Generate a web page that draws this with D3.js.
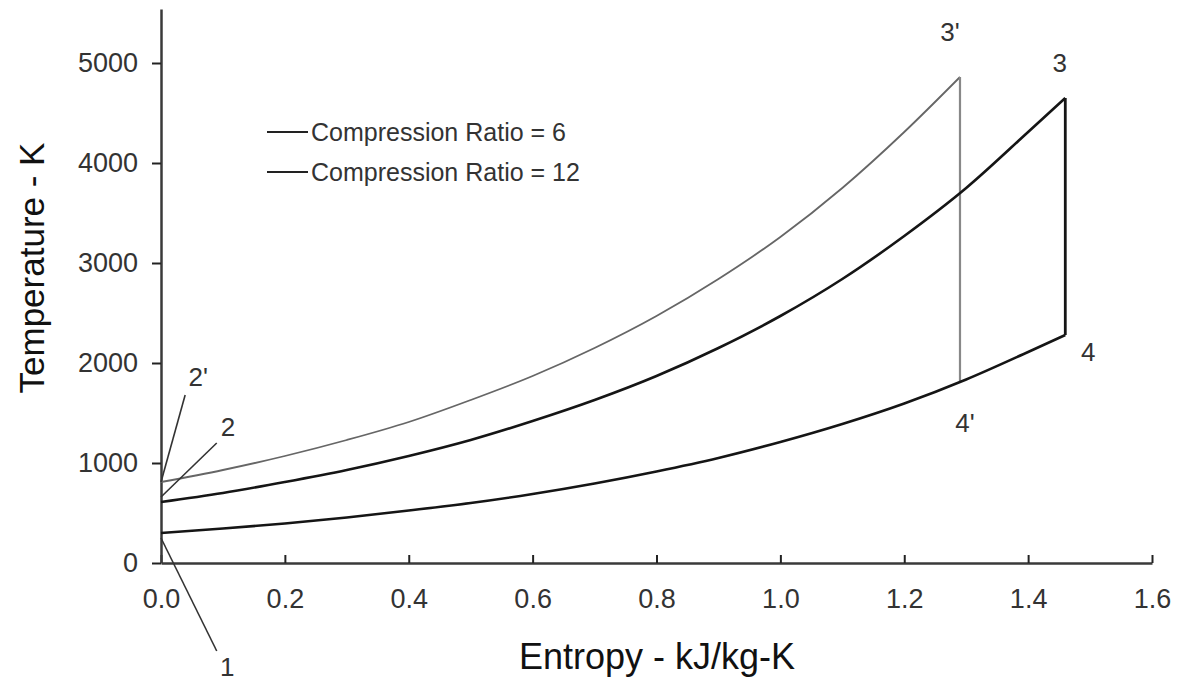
<!DOCTYPE html>
<html>
<head>
<meta charset="utf-8">
<script src="https://cdnjs.cloudflare.com/ajax/libs/d3/7.8.5/d3.min.js"></script>
<style>
    body { margin: 0; background: #fff; }
    svg text { font-family: "Liberation Sans", Arial, sans-serif; fill: #222; }
</style>
</head>
<body>
<svg id="chart" width="1178" height="683"></svg>
<script>
// tick values
const xTicks = [0, 0.2, 0.4, 0.6, 0.8, 1.0, 1.2, 1.4, 1.6];
const yTicks = [0, 1000, 2000, 3000, 4000, 5000];

// compression ratio 12: heat addition 2' -> 3'
const entropyR12 = [0, 0.1, 0.2, 0.3, 0.4, 0.5, 0.6, 0.7, 0.8, 0.9, 1.0, 1.1, 1.2, 1.29];
const tempR12 = [810, 930, 1070, 1230, 1410, 1630, 1870, 2150, 2470, 2840, 3260, 3750, 4310, 4860];

// compression ratio 6: heat addition 2 -> 3
const entropyR6 = [0, 0.1, 0.2, 0.3, 0.4, 0.5, 0.6, 0.7, 0.8, 0.9, 1.0, 1.1, 1.2, 1.3, 1.4, 1.46];
const tempR6 = [610, 700, 810, 930, 1070, 1230, 1420, 1630, 1870, 2150, 2470, 2840, 3270, 3750, 4310, 4650];

// heat rejection 1 -> 4' -> 4 (shared)
const entropyLow = [0, 0.1, 0.2, 0.3, 0.4, 0.5, 0.6, 0.7, 0.8, 0.9, 1.0, 1.1, 1.2, 1.3, 1.4, 1.46];
const tempLow = [300, 345, 395, 455, 525, 600, 690, 795, 915, 1050, 1210, 1390, 1595, 1835, 2110, 2280];

// isentropic expansions (vertical lines)
const expansionR12 = [[1.29, 4860], [1.29, 1810]];
const expansionR6 = [[1.46, 4650], [1.46, 2280]];

// state point labels: name, label s, label T
const stateNames = ["1", "2", "2'", "3", "3'", "4", "4'"];
const stateLabelS = [0.107, 0.108, 0.060, 1.451, 1.274, 1.497, 1.298];
const stateLabelT = [-1040, 1360, 1860, 5000, 5310, 2110, 1400];

// leader lines for the states at s = 0: [from], [to]
const leaders = [
    [[0, 250], [0.090, -880]],
    [[0, 660], [0.090, 1200]],
    [[0, 810], [0.039, 1680]]
];

const legendLabels = ["Compression Ratio = 6", "Compression Ratio = 12"];

class tsChart {
    constructor(_parentElement) {
        this.parentElement = _parentElement;
        this.initVis();
    }

    initVis() {
        let vis = this;

        vis.svg = d3.select(vis.parentElement);

        vis.xScale = d3.scaleLinear()
            .domain([0, 1.6])
            .range([161, 1152]);

        vis.yScale = d3.scaleLinear()
            .domain([0, 5540])
            .range([563, 9]);

        vis.line = d3.line()
            .x(d => vis.xScale(d[0]))
            .y(d => vis.yScale(d[1]));

        vis.drawAxes();
        vis.drawCurves();
        vis.drawLabels();
        vis.drawLegend();
    }

    drawAxes() {
        let vis = this;

        // x axis: ticks point up into the plot
        let xAxis = d3.axisTop(vis.xScale)
            .tickValues(xTicks)
            .tickFormat(d3.format(".1f"))
            .tickSizeInner(8)
            .tickSizeOuter(0);

        let xg = vis.svg.append("g")
            .attr("transform", `translate(0, ${vis.yScale(0)})`)
            .call(xAxis);
        xg.select(".domain").attr("stroke", "#3a3a3a").attr("stroke-width", 2.5);
        xg.selectAll(".tick line").attr("stroke", "#222").attr("stroke-width", 2);
        xg.selectAll(".tick text")
            .attr("y", 45)
            .attr("dy", 0)
            .style("font-size", "27px")
            .style("fill", "#333");

        let yAxis = d3.axisLeft(vis.yScale)
            .tickValues(yTicks)
            .tickFormat(d3.format("d"))
            .tickSizeInner(9)
            .tickSizeOuter(0)
            .tickPadding(14);

        let yg = vis.svg.append("g")
            .attr("transform", `translate(${vis.xScale(0)}, 0)`)
            .call(yAxis);
        yg.select(".domain").attr("stroke", "#3a3a3a").attr("stroke-width", 2.5);
        yg.selectAll(".tick line").attr("stroke", "#222").attr("stroke-width", 2);
        yg.selectAll(".tick text")
            .style("font-size", "27px")
            .style("fill", "#333");

        // axis titles
        vis.svg.append("text")
            .attr("x", 657)
            .attr("y", 669)
            .attr("text-anchor", "middle")
            .style("font-size", "36px")
            .style("fill", "#111")
            .text("Entropy - kJ/kg-K");

        vis.svg.append("text")
            .attr("transform", "rotate(-90)")
            .attr("x", -268)
            .attr("y", 44)
            .attr("text-anchor", "middle")
            .style("font-size", "35px")
            .style("fill", "#111")
            .text("Temperature - K");
    }

    drawCurves() {
        let vis = this;

        let r12 = entropyR12.map((s, i) => [s, tempR12[i]]);
        let r6 = entropyR6.map((s, i) => [s, tempR6[i]]);
        let low = entropyLow.map((s, i) => [s, tempLow[i]]);

        let g = vis.svg.append("g").attr("fill", "none");

        g.append("path")
            .datum(r12)
            .attr("d", vis.line.curve(d3.curveMonotoneX))
            .attr("stroke", "#666")
            .attr("stroke-width", 1.8);

        g.append("path")
            .datum(expansionR12)
            .attr("d", vis.line.curve(d3.curveLinear))
            .attr("stroke", "#888")
            .attr("stroke-width", 2.2);

        g.append("path")
            .datum(r6)
            .attr("d", vis.line.curve(d3.curveMonotoneX))
            .attr("stroke", "#151515")
            .attr("stroke-width", 2.6);

        g.append("path")
            .datum(low)
            .attr("d", vis.line.curve(d3.curveMonotoneX))
            .attr("stroke", "#151515")
            .attr("stroke-width", 2.6);

        g.append("path")
            .datum(expansionR6)
            .attr("d", vis.line.curve(d3.curveLinear))
            .attr("stroke", "#151515")
            .attr("stroke-width", 2.8);

        // leader lines to the labels near s = 0
        g.selectAll(".leader")
            .data(leaders)
            .enter()
            .append("path")
            .attr("class", "leader")
            .attr("d", d => vis.line.curve(d3.curveLinear)(d))
            .attr("stroke", "#333")
            .attr("stroke-width", 1.6);
    }

    drawLabels() {
        let vis = this;

        vis.svg.selectAll(".state-label")
            .data(stateNames)
            .enter()
            .append("text")
            .attr("class", "state-label")
            .attr("x", (d, i) => vis.xScale(stateLabelS[i]))
            .attr("y", (d, i) => vis.yScale(stateLabelT[i]))
            .attr("dy", "0.35em")
            .attr("text-anchor", "middle")
            .style("font-size", "26px")
            .style("fill", "#333")
            .text(d => d);
    }

    drawLegend() {
        let vis = this;

        let legend = vis.svg.append("g")
            .attr("class", "legend")
            .attr("transform", "translate(267, 132)");

        legend.selectAll("line")
            .data(legendLabels)
            .enter()
            .append("line")
            .attr("x1", 0)
            .attr("x2", 41)
            .attr("y1", (d, i) => i * 40)
            .attr("y2", (d, i) => i * 40)
            .attr("stroke", "#222")
            .attr("stroke-width", 2);

        legend.selectAll("text")
            .data(legendLabels)
            .enter()
            .append("text")
            .attr("x", 44)
            .attr("y", (d, i) => i * 40 + 9)
            .style("font-size", "25px")
            .style("fill", "#333")
            .text(d => d);
    }
}

new tsChart("#chart");
</script>
</body>
</html>
